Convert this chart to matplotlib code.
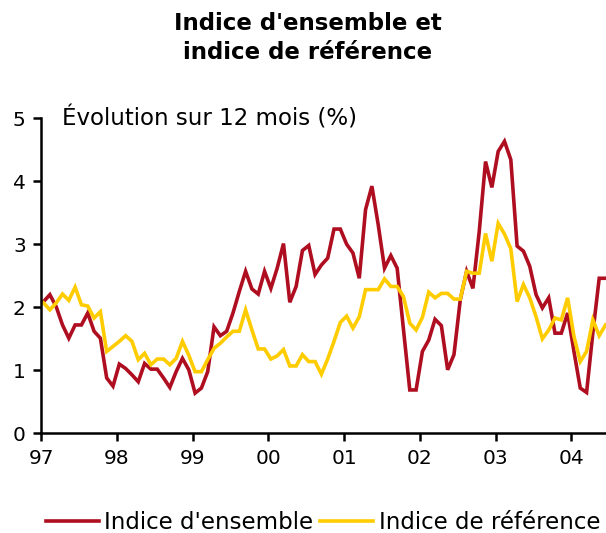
import numpy as np
import pandas as pd
import matplotlib
matplotlib.use("Agg")
import matplotlib.pyplot as plt

# monthly series, Jan 1997 -> Jun 2004 (annual change, %)
mois = pd.period_range("1997-01", periods=90, freq="M")

indice_ensemble = [
    2.09, 2.20, 2.01, 1.72, 1.51, 1.72, 1.72, 1.91, 1.62, 1.51, 0.88, 0.75,
    1.10, 1.03, 0.93, 0.82, 1.11, 1.02, 1.02, 0.88, 0.73, 0.98, 1.19, 1.01,
    0.64, 0.72, 0.98, 1.69, 1.55, 1.62, 1.91, 2.25, 2.57, 2.29, 2.21, 2.57,
    2.30, 2.62, 3.01, 2.08, 2.33, 2.90, 2.98, 2.52, 2.67, 2.78, 3.24, 3.24,
    3.00, 2.86, 2.46, 3.55, 3.92, 3.31, 2.62, 2.82, 2.62, 1.65, 0.69, 0.69,
    1.30, 1.48, 1.81, 1.71, 1.01, 1.25, 2.12, 2.57, 2.30, 3.20, 4.31, 3.90,
    4.47, 4.63, 4.34, 2.97, 2.89, 2.65, 2.20, 1.99, 2.15, 1.59, 1.59, 1.91,
    1.30, 0.72, 0.65, 1.60, 2.46, 2.46,
]

indice_reference = [
    2.07, 1.96, 2.07, 2.21, 2.11, 2.32, 2.04, 2.02, 1.83, 1.93, 1.30, 1.38,
    1.46, 1.55, 1.46, 1.17, 1.27, 1.09, 1.18, 1.18, 1.09, 1.19, 1.46, 1.24,
    0.98, 0.98, 1.17, 1.35, 1.43, 1.53, 1.62, 1.62, 1.96, 1.64, 1.34, 1.34,
    1.18, 1.23, 1.33, 1.07, 1.07, 1.25, 1.14, 1.14, 0.94, 1.18, 1.46, 1.76,
    1.86, 1.67, 1.85, 2.28, 2.28, 2.28, 2.45, 2.33, 2.33, 2.17, 1.75, 1.64,
    1.84, 2.24, 2.15, 2.22, 2.22, 2.13, 2.13, 2.57, 2.54, 2.54, 3.17, 2.73,
    3.33, 3.16, 2.93, 2.09, 2.36, 2.15, 1.85, 1.50, 1.64, 1.83, 1.80, 2.15,
    1.54, 1.14, 1.30, 1.80, 1.55, 1.72,
]

annees = [1997, 1998, 1999, 2000, 2001, 2002, 2003, 2004]
annee_labels = ["97", "98", "99", "00", "01", "02", "03", "04"]

rouge = "#AE0E20"
jaune = "#FFCC00"

x = mois.year + (mois.month - 0.6) / 12

fig = plt.figure(figsize=(6.06, 5.33), dpi=100)
ax = fig.add_axes([0.0677, 0.1867, 0.9315, 0.5919])

ax.plot(x, indice_ensemble, color=rouge, lw=2.6, label="Indice d'ensemble",
        clip_on=False, solid_joinstyle="miter")
ax.plot(x, indice_reference, color=jaune, lw=2.6, label="Indice de référence",
        clip_on=False, solid_joinstyle="miter")

ax.set_xlim(1997, x[-1])
ax.set_ylim(0, 5)
ax.set_xticks(annees)
ax.set_xticklabels(annee_labels)
ax.set_yticks(range(6))

for side in ["top", "right"]:
    ax.spines[side].set_visible(False)
for side in ["left", "bottom"]:
    ax.spines[side].set_linewidth(1.8)
ax.tick_params(direction="out", length=6, width=1.8, labelsize=14.5, pad=5)

ax.text(0.037, 1.0, "Évolution sur 12 mois (%)", transform=ax.transAxes,
        fontsize=16.5, va="center", ha="left")

fig.text(0.508, 0.978, "Indice d'ensemble et\nindice de référence",
         ha="center", va="top", fontsize=16.5, fontweight="bold", linespacing=1.35)

fig.legend(loc="center", bbox_to_anchor=(0.533, 0.02), ncol=2, frameon=False,
           fontsize=16.5, handlelength=2.3, handletextpad=0.25,
           columnspacing=0.3, borderaxespad=0)

fig.savefig("out.png", dpi=100)
